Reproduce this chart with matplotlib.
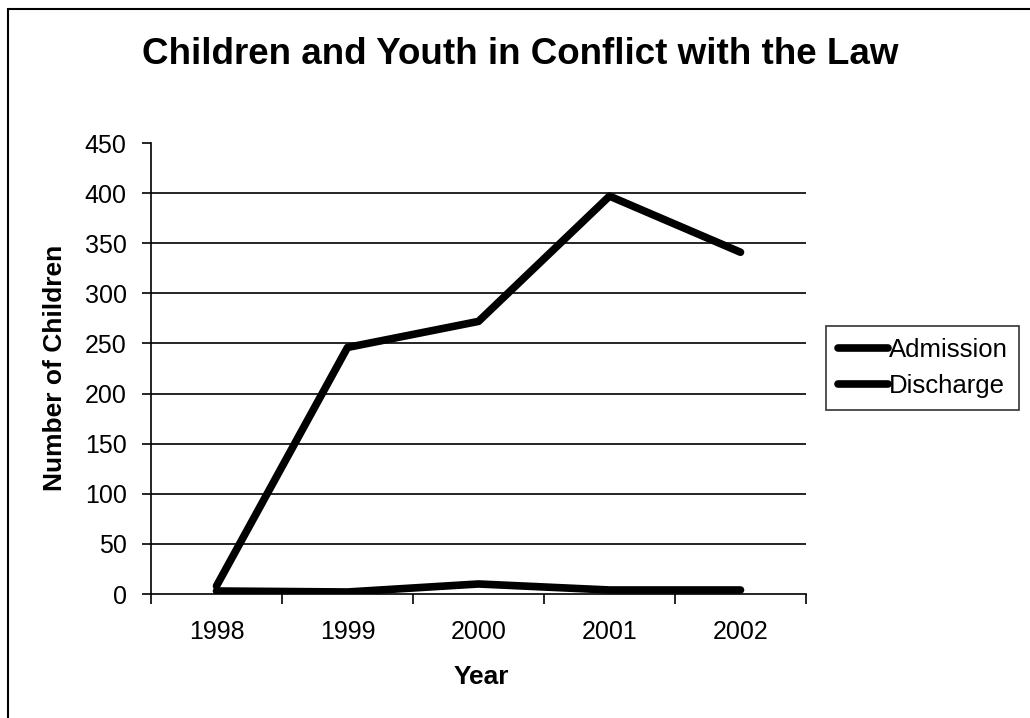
import matplotlib
matplotlib.use("Agg")
import matplotlib.pyplot as plt
from matplotlib.patches import Rectangle

years = ["1998", "1999", "2000", "2001", "2002"]
admission = [8, 246, 272, 397, 341]
discharge = [3, 2, 10, 4, 4]
yticks = [0, 50, 100, 150, 200, 250, 300, 350, 400, 450]

plt.rcParams['font.family'] = ['Liberation Sans', 'DejaVu Sans']

fig = plt.figure(figsize=(10.30, 7.18), dpi=100)
fig.patches.append(Rectangle((8/1030, -0.01), 1.0, 1 - 9/718 + 0.01, transform=fig.transFigure,
                             fill=False, edgecolor='black', linewidth=1.5))

ax = fig.add_axes([151/1030, 1 - 594/718, 655/1030, 451/718])
x = list(range(1, len(years) + 1))
ax.plot(x, admission, color='black', linewidth=5.5, solid_capstyle='round', solid_joinstyle='round',
        label='Admission', zorder=3)
ax.plot(x, discharge, color='black', linewidth=5.5, solid_capstyle='round', solid_joinstyle='round',
        label='Discharge', zorder=3)

ax.set_xlim(0.5, len(years) + 0.5)
ax.set_ylim(0, 450)
ax.set_yticks(yticks)
ax.set_yticklabels([str(v) for v in yticks], fontsize=18)
ax.set_xticks(x)
ax.set_xticklabels(years, fontsize=18)
ax.set_xticks([i + 0.5 for i in range(0, len(years) + 1)], minor=True)
ax.tick_params(axis='x', which='major', length=0, pad=19)
ax.tick_params(axis='x', which='minor', length=7, width=1.2, direction='out')
ax.tick_params(axis='y', length=6.5, width=1.2, direction='out', pad=11)

for v in yticks[1:-1]:
    ax.axhline(v, color='black', linewidth=1.2, zorder=1)

for s in ['top', 'right']:
    ax.spines[s].set_visible(False)
for s in ['left', 'bottom']:
    ax.spines[s].set_linewidth(1.2)

ax.set_xlabel('Year', fontsize=19, fontweight='bold', labelpad=12)
ax.set_ylabel('Number of Children', fontsize=19, fontweight='bold', labelpad=14)
ax.yaxis.set_label_coords(55/1030, 1 - 368/718, transform=fig.transFigure)
ax.xaxis.set_label_coords(481/1030, 1 - 677/718, transform=fig.transFigure)
ax.xaxis.label.set_va('center')
ax.yaxis.label.set_va('center')

fig.text(520/1030, 1 - 55/718, 'Children and Youth in Conflict with the Law', ha='center', va='center',
         fontsize=26.5, fontweight='bold')

leg = ax.legend(loc='center left', bbox_to_anchor=(826/1030, 1 - 368/718), bbox_transform=fig.transFigure,
                fontsize=18.5, frameon=True, fancybox=False, edgecolor='black', handlelength=1.95,
                handletextpad=0.05, borderpad=0.45, borderaxespad=0, labelspacing=0.5)
leg.get_frame().set_linewidth(1.2)

fig.savefig('out.png', dpi=100)
